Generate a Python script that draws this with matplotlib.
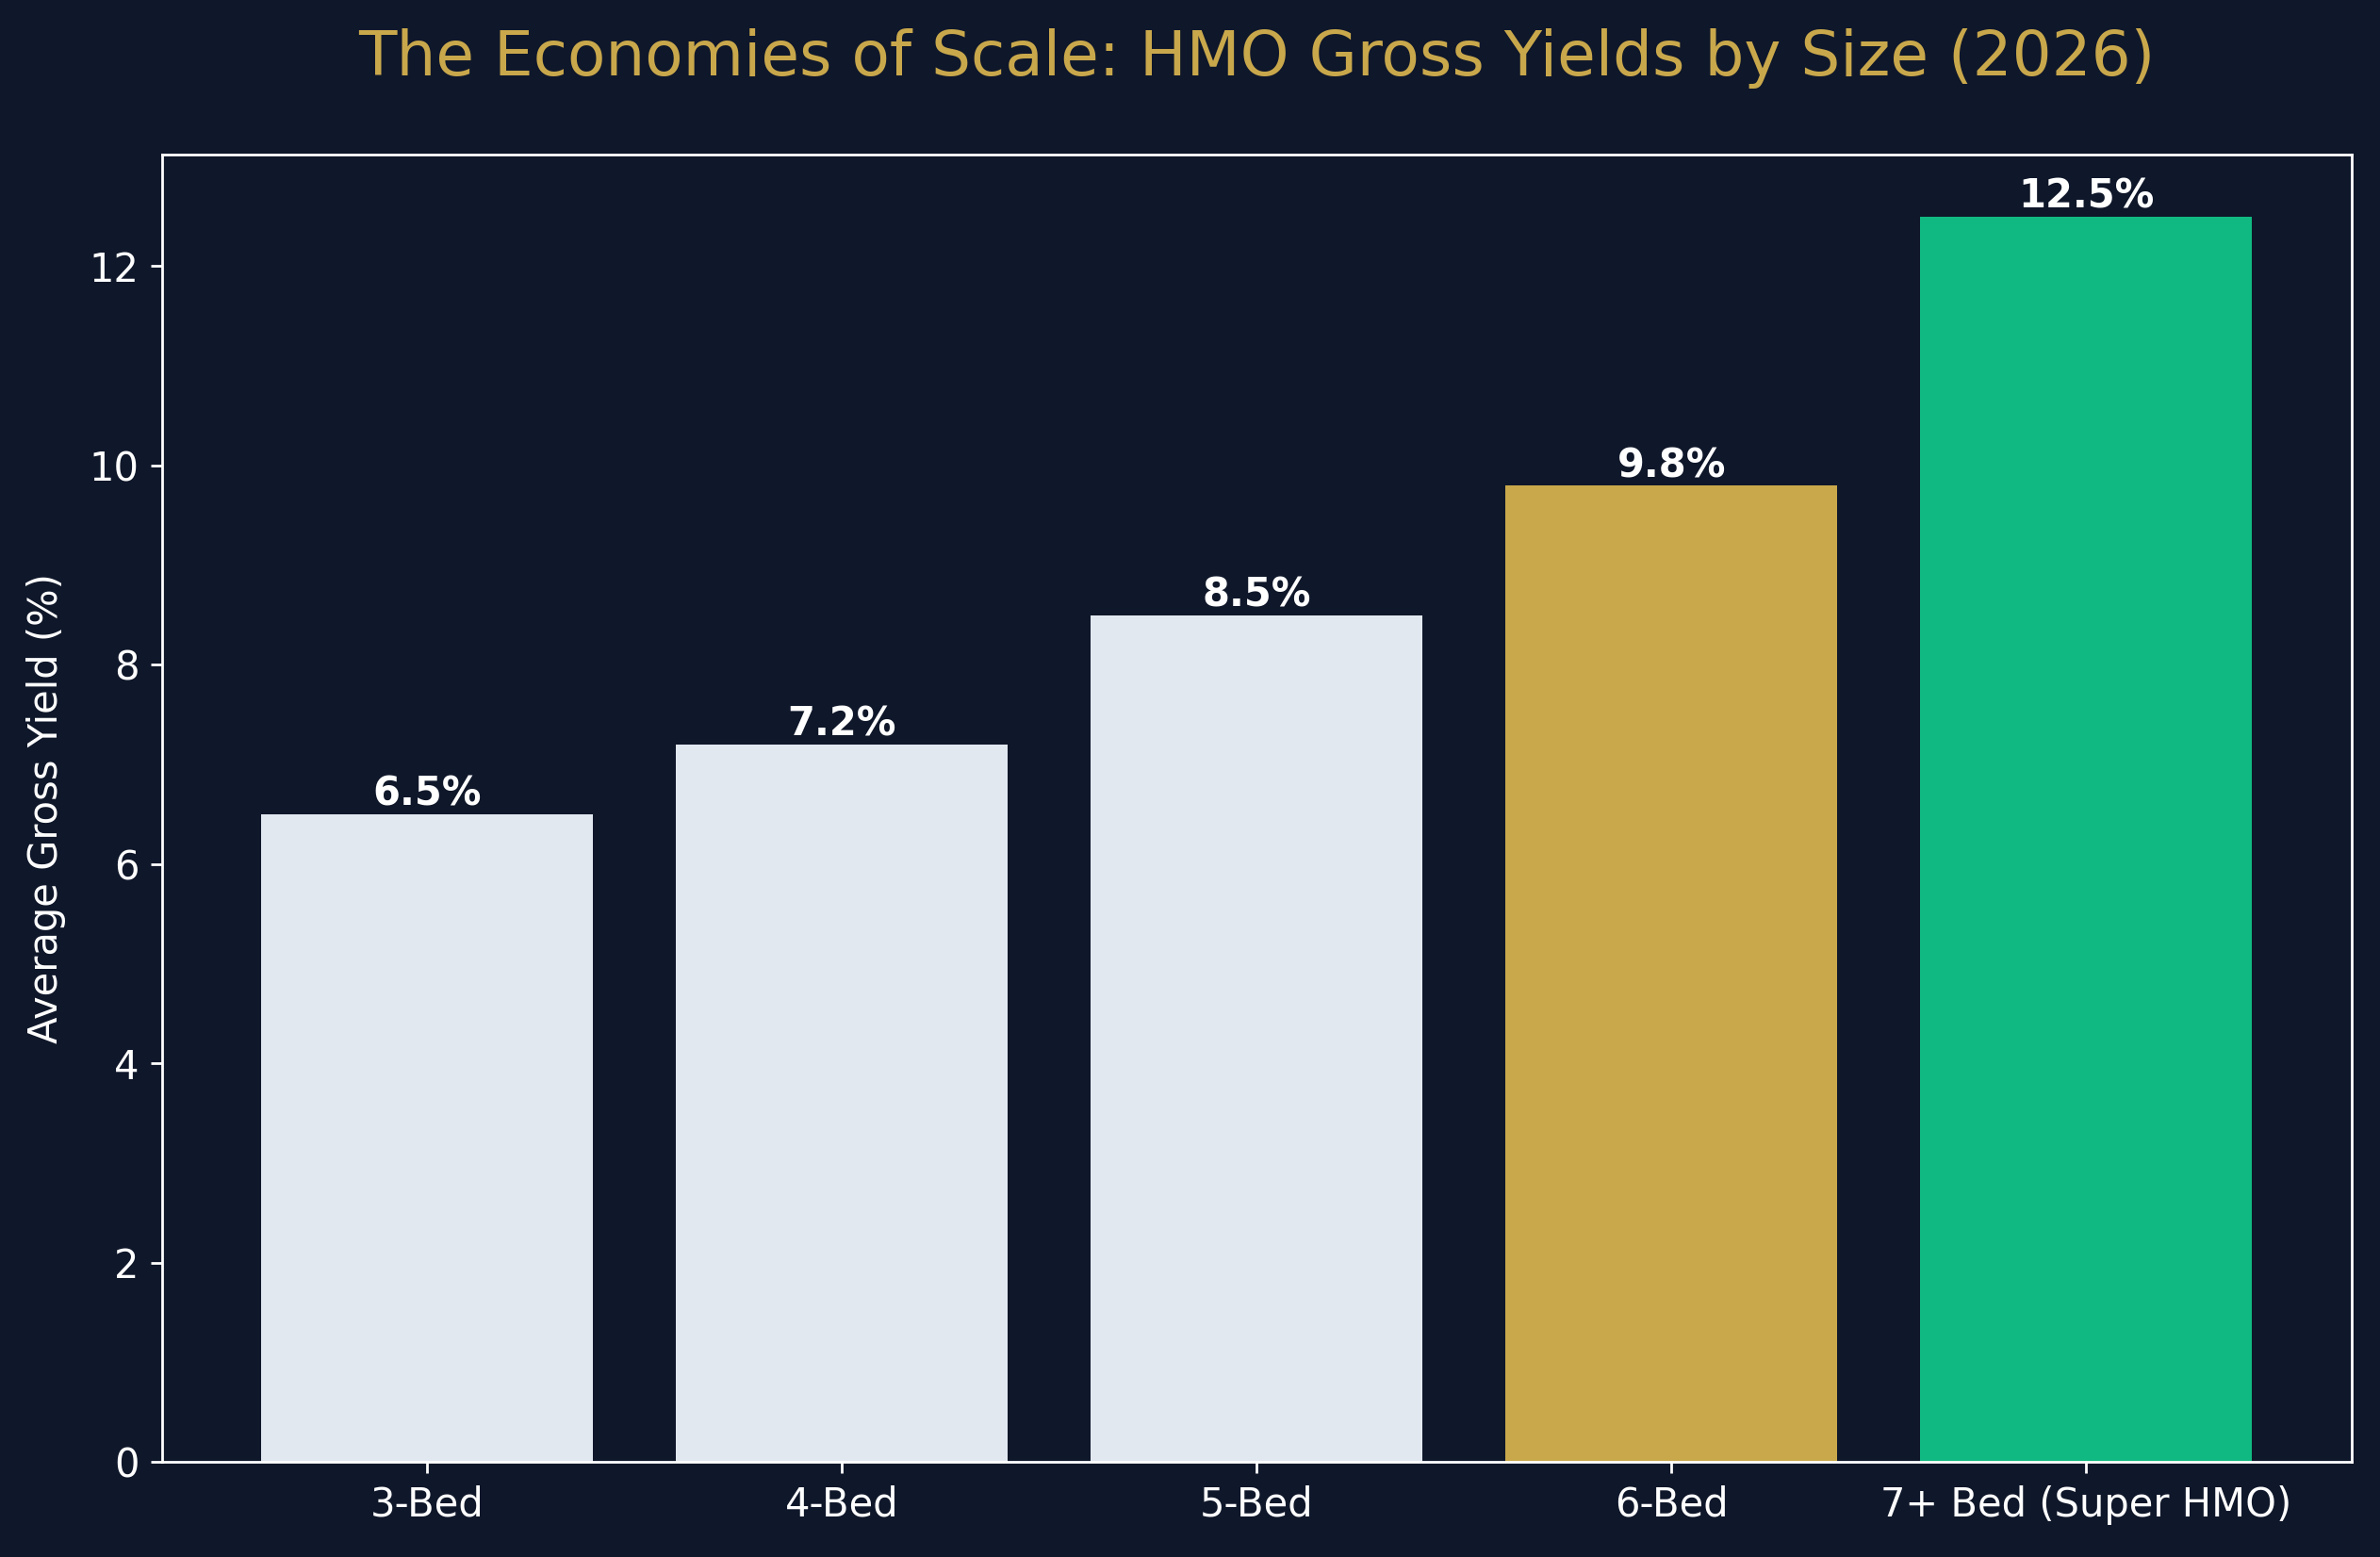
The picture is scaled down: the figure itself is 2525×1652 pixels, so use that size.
import matplotlib.pyplot as plt

# データ
categories = ['3-Bed', '4-Bed', '5-Bed', '6-Bed', '7+ Bed (Super HMO)']
yields = [6.5, 7.2, 8.5, 9.8, 12.5]
bar_colors = ['#e2e8f0', '#e2e8f0', '#e2e8f0', '#c9a84c', '#10b981']

bg = '#0f172a'
gold = '#c9a84c'

fig, ax = plt.subplots(figsize=(10.1, 6.608), dpi=250)
fig.patch.set_facecolor(bg)
ax.set_facecolor(bg)

bars = ax.bar(categories, yields, color=bar_colors, width=0.8)

# 値ラベル
for b, v in zip(bars, yields):
    ax.text(b.get_x() + b.get_width() / 2, b.get_height(), f'{v}%',
            ha='center', va='bottom', color='white', fontsize=12, fontweight='bold')

ax.set_title('The Economies of Scale: HMO Gross Yields by Size (2026)',
             color=gold, fontsize=19, pad=24)
ax.set_ylabel('Average Gross Yield (%)', color='white', fontsize=12, labelpad=7)

for s in ax.spines.values():
    s.set_color('white')
ax.tick_params(colors='white', labelsize=12)

fig.subplots_adjust(left=0.068, right=0.988, top=0.901, bottom=0.061)
plt.savefig('out.png', facecolor=bg)
